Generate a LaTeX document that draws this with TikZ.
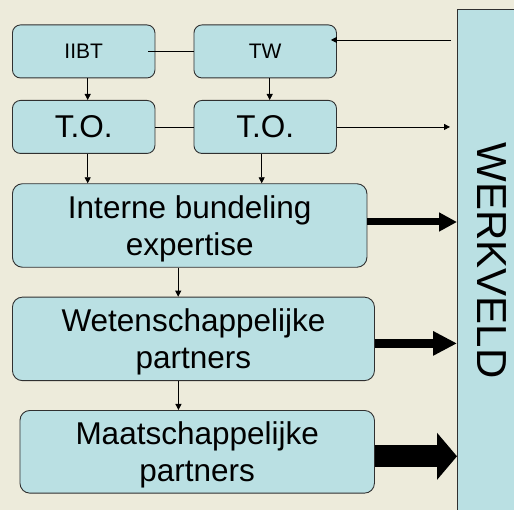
\documentclass[tikz,border=0pt]{standalone}
\usepackage{fontspec}
\setmainfont{Liberation Sans}
\usetikzlibrary{arrows.meta}
\definecolor{boxfill}{HTML}{BAE0E3}
\definecolor{bgcol}{HTML}{EDEBDB}
\definecolor{edgecol}{HTML}{303030}
\tikzset{
  box/.style={draw=edgecol, line width=0.9pt, fill=boxfill, rounded corners=8pt,
    inner sep=0pt, align=center, anchor=north west},
  smalltxt/.style={font=\fontsize{21}{24}\selectfont},
  bigtxt/.style={font=\fontsize{31.5}{37}\selectfont},
  twoline/.style={text depth=0pt, rounded corners=10pt},
  thinarrow/.style={line width=0.8pt, -{Triangle[length=6pt,width=6pt]}},
  thinline/.style={line width=0.8pt},
}
\begin{document}
\begin{tikzpicture}[x=1pt,y=-1pt]
\fill[bgcol] (0,0) rectangle (514,510);
\useasboundingbox (0,0) rectangle (514,510);
\clip (0,0) rectangle (514,510);
% WERKVELD column
\node[draw=edgecol, line width=1.4pt, fill=boxfill, anchor=north west, minimum width=70pt, minimum height=520pt, inner sep=0pt] (wk) at (457,9) {};
\node[rotate=-90, inner sep=0pt, font=\fontsize{42}{48}\selectfont] (wktxt) at (491.5,260.5) {WERKVELD};
% boxes
\node[box, smalltxt, minimum width=142.5pt, minimum height=53pt] (iibt) at (12,24.5) {IIBT};
\node[box, smalltxt, minimum width=142.5pt, minimum height=53pt] (tw) at (193.5,24.5) {TW};
\node[box, bigtxt, minimum width=142.5pt, minimum height=53pt] (to1) at (12,100) {T.O.};
\node[box, bigtxt, minimum width=142.5pt, minimum height=53pt] (to2) at (193.5,100) {T.O.};
\node[box, bigtxt, twoline, minimum width=354.5pt, minimum height=83.5pt] (ib) at (12,183.3) {Interne bundeling\\expertise};
\node[box, bigtxt, twoline, minimum width=362pt, minimum height=83.5pt] (ws) at (12,296.7) {Wetenschappelijke\\partners};
\node[box, bigtxt, twoline, minimum width=354.5pt, minimum height=82.7pt] (ms) at (19.5,410) {Maatschappelijke\\partners};
% horizontal thin lines
\draw[thinline] ([xshift=-7pt]iibt.east) -- (tw.west);
\draw[thinline] (to1.east) -- (to2.west);
% thin arrows
\draw[thinarrow] ([xshift=-6pt,yshift=11.5pt]tw.east -| wk.west) -- ([xshift=-6pt,yshift=11.5pt]tw.east);
\draw[thinarrow] (to2.east) -- ([xshift=-7pt]to2.east -| wk.west);
\draw[thinarrow] ([xshift=4pt]iibt.south) -- ([xshift=4pt]to1.north);
\draw[thinarrow] ([xshift=4.5pt]tw.south) -- ([xshift=4.5pt]to2.north);
\draw[thinarrow] ([xshift=4pt]to1.south) -- ([xshift=4pt]to1.south |- ib.north);
\draw[thinarrow] ([xshift=-3.5pt]to2.south) -- ([xshift=-3.5pt]to2.south |- ib.north);
\draw[thinarrow] ([xshift=-11.5pt]ib.south) -- ([xshift=-11.5pt]ib.south |- ws.north);
\draw[thinarrow] ([xshift=-15pt]ws.south) -- ([xshift=-15pt]ws.south |- ms.north);
% thick arrows to WERKVELD
\draw[line width=7pt, -{Triangle[length=18pt,width=18pt]}] ([yshift=3.5pt]ib.east) -- ([yshift=3.5pt]ib.east -| wk.west);
\draw[line width=9.5pt, -{Triangle[length=24pt,width=23pt]}] ([yshift=-4.5pt]ws.east) -- ([yshift=-4.5pt]ws.east -| wk.west);
\draw[line width=22pt, -{Triangle[length=20pt,width=46pt]}] ([yshift=-4.5pt]ms.east) -- ([yshift=-4.5pt]ms.east -| wk.west);
\end{tikzpicture}
\end{document}
